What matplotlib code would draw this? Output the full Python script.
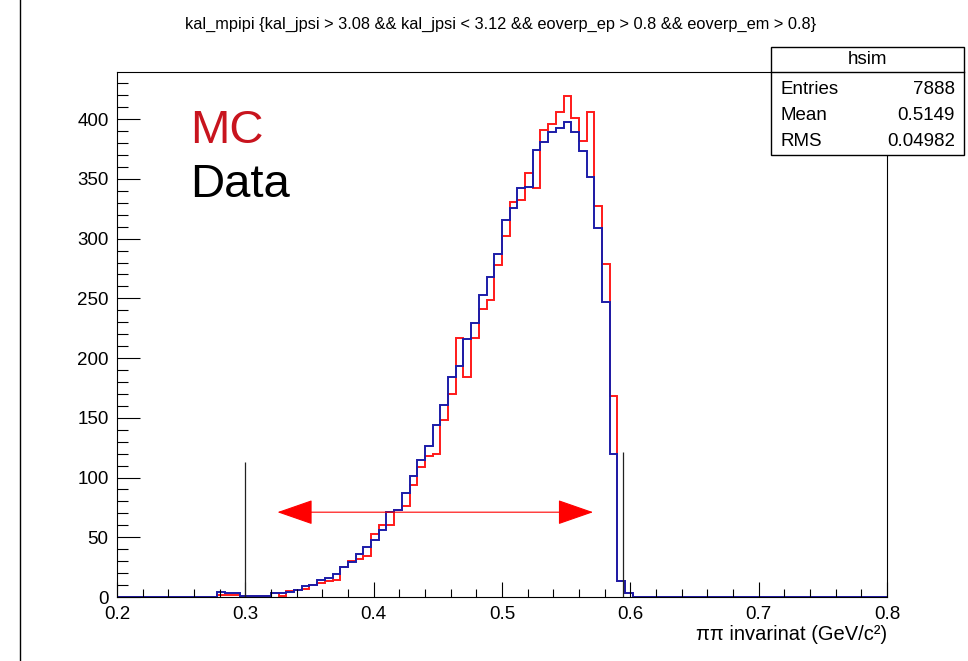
import numpy as np
import matplotlib.pyplot as plt
from matplotlib.lines import Line2D
from matplotlib.patches import Rectangle
from matplotlib.ticker import MultipleLocator

plt.rcParams['font.family'] = ['Liberation Sans', 'DejaVu Sans']

# histogram binning: 100 bins from 0.2 to 0.8, filled bins start at bin 13
bin_edges = np.linspace(0.2, 0.8, 101)
first_bin = 13
mc_counts = [2, 2, 2, 1, 1, 1, 1, 3, 1, 5,
             6, 7, 10, 12, 13, 14, 25, 30, 32, 34,
             53, 60, 60, 73, 76, 94, 109, 118, 120, 148,
             170, 217, 184, 217, 241, 249, 278, 302, 331, 332,
             355, 342, 391, 396, 406, 419, 401, 382, 406, 327,
             279, 168, 13, 3]
data_counts = [4, 3, 3, 1, 1, 1, 1, 3, 3, 4,
               6, 9, 10, 14, 16, 19, 25, 29, 36, 42,
               48, 56, 71, 73, 87, 101, 115, 126, 144, 161,
               184, 193, 216, 229, 253, 268, 287, 316, 326, 342,
               343, 374, 381, 389, 393, 398, 389, 373, 352, 309,
               247, 120, 13, 3]

cut_lines_x = [0.3, 0.594]
cut_lines_top = [113, 121]
arrow_x = [0.325, 0.571]
arrow_y = 71

stats_rows = [('Entries', '7888'), ('Mean', '0.5149'), ('RMS', '0.04982')]
title = 'kal_mpipi {kal_jpsi > 3.08 && kal_jpsi < 3.12 && eoverp_ep > 0.8 && eoverp_em > 0.8}'

mc = np.zeros(len(bin_edges) - 1)
mc[first_bin:first_bin + len(mc_counts)] = mc_counts
data = np.zeros(len(bin_edges) - 1)
data[first_bin:first_bin + len(data_counts)] = data_counts

W, H = 968, 661
fig = plt.figure(figsize=(W / 100, H / 100), dpi=100)
ax = fig.add_axes([117 / W, 1 - 597 / H, (887 - 117) / W, (597 - 72) / H])

ax.stairs(mc, bin_edges, color='#ff1a1a', lw=1.4)
ax.stairs(data, bin_edges, color='#1c1ca8', lw=1.4)

ax.vlines(cut_lines_x, 0, cut_lines_top, color='#222222', lw=0.9)
ax.annotate('', xy=(arrow_x[1], arrow_y), xytext=(arrow_x[0], arrow_y),
            arrowprops=dict(arrowstyle='<|-|>,head_length=2.3,head_width=0.8',
                            color='red', lw=0.8, shrinkA=0, shrinkB=0,
                            mutation_scale=10))

ax.text(0.257, 380, 'MC', color='#c8141e', fontsize=34)
ax.text(0.257, 335, 'Data', color='black', fontsize=34)

ax.set_xlim(0.2, 0.8)
ax.set_ylim(0, 439.5)
ax.set_xticks(np.arange(0.2, 0.81, 0.1))
ax.xaxis.set_minor_locator(MultipleLocator(0.02))
ax.yaxis.set_major_locator(MultipleLocator(50))
ax.yaxis.set_minor_locator(MultipleLocator(10))
ax.set_xticklabels(['0.2', '0.3', '0.4', '0.5', '0.6', '0.7', '0.8'])
ax.tick_params(axis='x', which='major', direction='in', length=11, width=0.8, labelsize=13.5, pad=6.5)
ax.tick_params(axis='x', which='minor', direction='in', length=5.5, width=0.8)
ax.tick_params(axis='y', which='major', direction='in', length=16.5, width=0.8, labelsize=13.5, pad=6)
ax.tick_params(axis='y', which='minor', direction='in', length=8, width=0.8)
for s in ax.spines.values():
    s.set_linewidth(0.8)

fig.text(887 / W, 1 - 634 / H, 'ππ invarinat (GeV/c²)', ha='right', va='center', fontsize=14.5)
fig.text(501 / W, 1 - 24 / H, title, ha='center', va='center', fontsize=11.8)

# screenshot border on the left
fig.add_artist(Line2D([20 / W, 20 / W], [0, 1], color='black', lw=1))

# stats box
bx0, bx1, by0, by1, bsep = 771, 964, 47, 155, 72
fig.add_artist(Rectangle((bx0 / W, 1 - by1 / H), (bx1 - bx0) / W, (by1 - by0) / H,
                         transform=fig.transFigure, facecolor='white',
                         edgecolor='black', lw=1, zorder=10))
fig.add_artist(Line2D([bx0 / W, bx1 / W], [1 - bsep / H, 1 - bsep / H],
                      color='black', lw=1, zorder=11))
fig.text((bx0 + bx1) / 2 / W, 1 - 60 / H, 'hsim', ha='center', va='center', fontsize=13.5, zorder=12)
for i, (name, val) in enumerate(stats_rows):
    yy = 1 - (89 + 26 * i) / H
    fig.text(781 / W, yy, name, ha='left', va='center', fontsize=13.5, zorder=12)
    fig.text(955 / W, yy, val, ha='right', va='center', fontsize=13.5, zorder=12)

fig.savefig('out.png', dpi=100)
